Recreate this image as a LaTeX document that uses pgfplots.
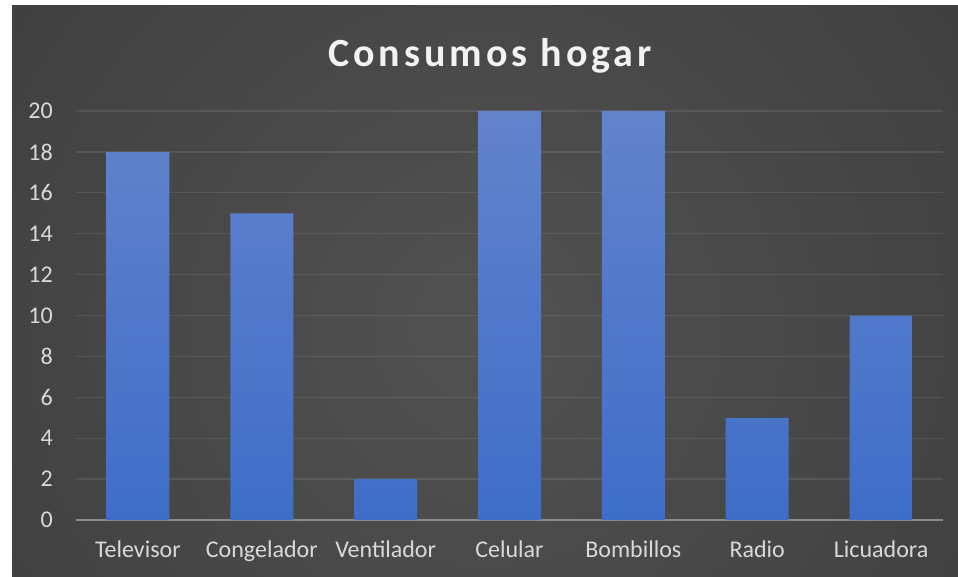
\documentclass[border=0pt]{standalone}
\usepackage{pgfplots}
\pgfplotsset{compat=1.18}
\usepackage{fontspec}
\setmainfont{Carlito}
\newfontfamily\titlefont[LetterSpace=10]{Carlito}
\definecolor{barTop}{HTML}{6283CC}
\definecolor{barBot}{HTML}{3E6EC8}
\definecolor{bgA}{HTML}{525252}
\definecolor{bgB}{HTML}{3F3F3F}
\definecolor{bgC}{HTML}{2A2A2A}
\definecolor{bgD}{HTML}{232323}
\definecolor{labcol}{HTML}{D9D9D9}
\definecolor{titlecol}{HTML}{F2F2F2}
\definecolor{axcol}{HTML}{8C8C8C}
\pgfdeclareradialshading{bgshade}{\pgfpoint{0bp}{0bp}}{color(0bp)=(bgA); color(25bp)=(bgB); color(40bp)=(bgC); color(50bp)=(bgD)}
\begin{document}
\begin{tikzpicture}
\fill[white] (0pt,0pt) rectangle (958pt,-577pt);
\begin{scope}
\clip (12pt,-6pt) rectangle (958pt,-577pt);
\shade[shading=bgshade] (-115pt,-930pt) rectangle (1085pt,270pt);
\end{scope}
\node[anchor=base, text=titlecol, inner sep=0pt, font=\titlefont\bfseries\fontsize{40}{42}\selectfont] at (490pt,-67pt) {Consumos hogar};
\begin{axis}[
  at={(76pt,-520pt)}, anchor=south west,
  scale only axis, width=867pt, height=409pt,
  xmin=-0.5, xmax=6.5, ymin=0, ymax=20,
  axis x line*=bottom, axis y line*=left,
  axis line style={-},
  x axis line style={color=axcol, line width=2.2pt},
  y axis line style={draw=none},
  major tick length=0pt,
  xtick={0,1,2,3,4,5,6},
  xticklabels={Televisor,Congelador,Ventilador,Celular,Bombillos,Radio,Licuadora},
  ytick={0,2,...,20},
  /pgf/number format/assume math mode=true,
  tick label style={font=\fontsize{24}{27}\selectfont, text=labcol, inner sep=0pt},
  yticklabel style={anchor=east, xshift=-23pt},
  xticklabel style={anchor=north, yshift=-21pt},
  ymajorgrids,
  major grid style={white, opacity=0.09, line width=1.3pt},
  clip=false,
]
\addplot[ybar, bar width=63pt, draw=none, top color=barTop, bottom color=barBot] coordinates {
(0,18) (1,15) (2,2) (3,20) (4,20) (5,5) (6,10)};
\end{axis}
\end{tikzpicture}
\end{document}
